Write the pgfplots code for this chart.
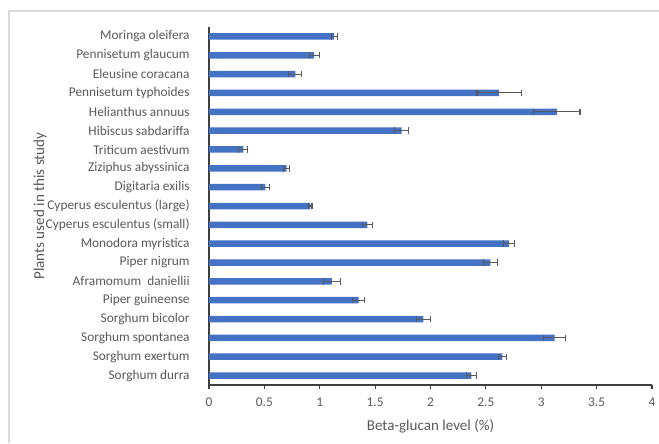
\documentclass[border=0pt]{standalone}
\usepackage{fontspec}
\setmainfont{Carlito}
\usepackage{pgfplots}
\usepackage{pgfplotstable}
\pgfplotsset{compat=1.18}

\definecolor{barblue}{HTML}{4472C4}
\definecolor{txtgray}{HTML}{595959}
\definecolor{axisgray}{HTML}{404040}
\definecolor{framegray}{HTML}{D9D9D9}

% pos = row from the bottom, val = mean beta-glucan (%), err = deviation
\pgfplotstableread{
pos val   err
0   2.37  0.042
1   2.65  0.035
2   3.12  0.100
3   1.935 0.062
4   1.35  0.057
5   1.11  0.077
6   2.54  0.063
7   2.71  0.050
8   1.43  0.048
9   0.915 0.015
10  0.51  0.035
11  0.70  0.027
12  0.31  0.040
13  1.74  0.063
14  3.14  0.210
15  2.62  0.200
16  0.78  0.058
17  0.95  0.045
18  1.13  0.027
}\glucan

\begin{document}
\begin{tikzpicture}
\useasboundingbox (0,0) rectangle (494.25pt,332.25pt);
\draw[framegray, line width=1.2pt] (6.75pt,0) -- (6.75pt,324pt) -- (494.25pt,324pt);
\begin{axis}[
  at={(156.75pt,43.5pt)}, anchor=south west,
  scale only axis, width=332.25pt, height=268.5pt,
  xbar, bar width=0.345,
  xmin=0, xmax=4, ymin=-0.5, ymax=18.5,
  axis x line=bottom, axis y line=left,
  axis line style={-, axisgray, line width=0.8pt},
  xtick={0,0.5,...,4},
  ytick={0,...,18},
  yticklabels={Sorghum durra, Sorghum exertum, Sorghum spontanea, Sorghum bicolor,
    Piper guineense, {Aframomum\ \ daniellii}, Piper nigrum, Monodora myristica,
    Cyperus esculentus (small), Cyperus esculentus (large), Digitaria exilis,
    Ziziphus abyssinica, Triticum aestivum, Hibiscus sabdariffa, Helianthus annuus,
    Pennisetum typhoides, Eleusine coracana, Pennisetum glaucum, Moringa oleifera},
  tick align=outside, major tick length=3pt,
  xtick style={axisgray, line width=0.8pt},
  ytick style={draw=none},
  /pgf/number format/assume math mode=true,
  xticklabel style={text=txtgray, font=\fontsize{10}{12}\selectfont, yshift=-3pt},
  yticklabel style={text=txtgray, font=\fontsize{10}{12}\selectfont, xshift=-8pt},
  xlabel={Beta-glucan level (\%)},
  ylabel={Plants used in this study},
  every axis x label/.style={at={(axis description cs:0.5,-0.1145)}, anchor=center,
    text=txtgray, font=\fontsize{11.3}{13}\selectfont},
  every axis y label/.style={at={(axis description cs:-0.3815,0.5)}, anchor=center,
    rotate=90, text=txtgray, font=\fontsize{11.3}{13}\selectfont},
]
\addplot[fill=barblue, draw=none,
  error bars/.cd, x dir=both, x explicit,
  error mark=|,
  error bar style={txtgray, line width=0.8pt},
  error mark options={txtgray, line width=0.8pt, mark size=2.4pt}]
  table[x=val, y=pos, x error=err] {\glucan};
\end{axis}
\end{tikzpicture}
\end{document}
